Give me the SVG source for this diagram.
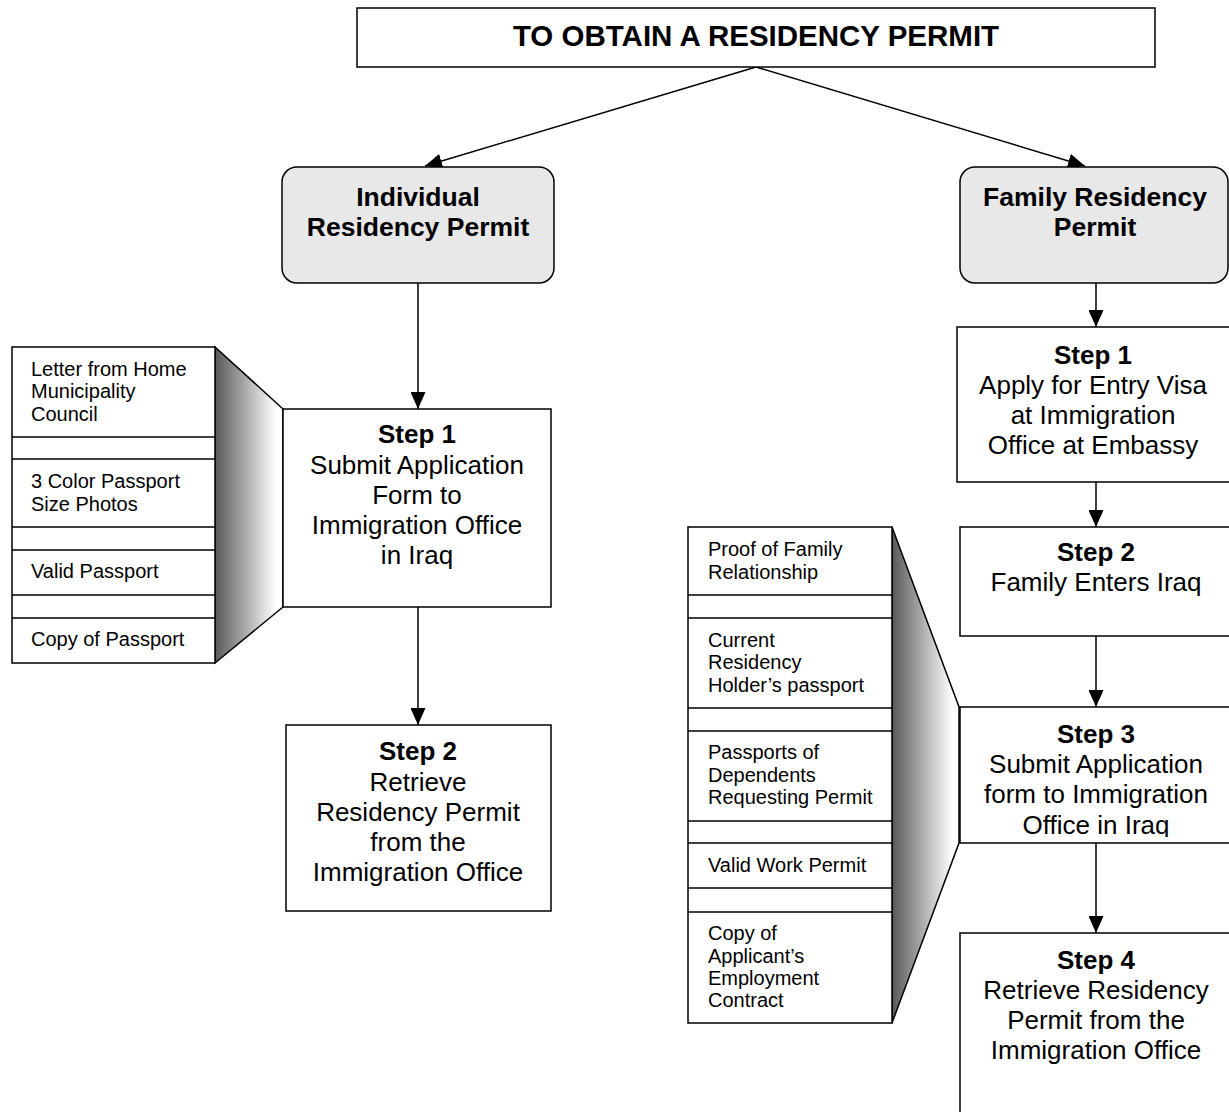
<svg xmlns="http://www.w3.org/2000/svg" width="1229" height="1112" viewBox="0 0 1229 1112">
<style>
text{font-family:"Liberation Sans",Arial,sans-serif;fill:#000}
.box{fill:#fff;stroke:#000;stroke-width:1.5}
.rbox{fill:#e8e8e8;stroke:#000;stroke-width:1.5}
.head{font-size:29.5px;font-weight:bold;text-anchor:middle}
.title{font-size:26.5px;font-weight:bold;text-anchor:middle}
.st{font-size:26px;text-anchor:middle}
.stb{font-size:26px;font-weight:bold;text-anchor:middle}
.li{font-size:20px}
.sep{stroke:#000;stroke-width:1.5}
.conn{stroke:#000;stroke-width:1.5;fill:none;marker-end:url(#ah)}
.trap{fill:url(#grad);stroke:#000;stroke-width:1.5}
</style>
<defs>
<marker id="ah" viewBox="0 0 17 15" refX="17" refY="7.5" markerWidth="17" markerHeight="15" markerUnits="userSpaceOnUse" orient="auto">
<path d="M0,0 L17,7.5 L0,15 z" fill="#000"/>
</marker>
<linearGradient id="grad" x1="0" y1="0" x2="1" y2="0">
<stop offset="0" stop-color="#585858"/>
<stop offset="0.9" stop-color="#ffffff"/>
<stop offset="1" stop-color="#ffffff"/>
</linearGradient>
<clipPath id="clip3"><rect x="960" y="707" width="280" height="130"/></clipPath>
</defs>
<rect width="1229" height="1112" fill="#fff"/>

<g id="connectors">
<line class="conn" x1="756" y1="67" x2="425" y2="166"/>
<line class="conn" x1="756" y1="67" x2="1085" y2="166"/>
<line class="conn" x1="418" y1="283" x2="418" y2="409"/>
<line class="conn" x1="418" y1="607" x2="418" y2="725"/>
<line class="conn" x1="1096" y1="283" x2="1096" y2="327"/>
<line class="conn" x1="1096" y1="482" x2="1096" y2="527"/>
<line class="conn" x1="1096" y1="636" x2="1096" y2="707"/>
<line class="conn" x1="1096" y1="843" x2="1096" y2="933"/>
</g>

<g id="header">
<rect class="box" x="357" y="8" width="798" height="59"/>
<text class="head" x="756" y="46">TO OBTAIN A RESIDENCY PERMIT</text>
</g>

<g id="individual">
<rect class="rbox" x="282" y="167" width="272" height="116" rx="15" ry="15"/>
<text class="title" x="418" y="206">Individual</text>
<text class="title" x="418" y="236">Residency Permit</text>
</g>

<g id="family">
<rect class="rbox" x="960" y="167" width="268" height="116" rx="15" ry="15"/>
<text class="title" x="1095" y="206">Family Residency</text>
<text class="title" x="1095" y="236">Permit</text>
</g>

<g id="ind-docs">
<polygon class="trap" points="215,347 283,409 283,607 215,663"/>
<rect class="box" x="12" y="347" width="203" height="316"/>
<line class="sep" x1="12" y1="437" x2="215" y2="437"/>
<line class="sep" x1="12" y1="459" x2="215" y2="459"/>
<line class="sep" x1="12" y1="527" x2="215" y2="527"/>
<line class="sep" x1="12" y1="550" x2="215" y2="550"/>
<line class="sep" x1="12" y1="595" x2="215" y2="595"/>
<line class="sep" x1="12" y1="618" x2="215" y2="618"/>
<text class="li" x="31" y="376">Letter from Home</text>
<text class="li" x="31" y="398">Municipality</text>
<text class="li" x="31" y="421">Council</text>
<text class="li" x="31" y="488">3 Color Passport</text>
<text class="li" x="31" y="511">Size Photos</text>
<text class="li" x="31" y="578">Valid Passport</text>
<text class="li" x="31" y="646">Copy of Passport</text>
</g>

<g id="ind-step1">
<rect class="box" x="283" y="409" width="268" height="198"/>
<text class="stb" x="417" y="443">Step 1</text>
<text class="st" x="417" y="474">Submit Application</text>
<text class="st" x="417" y="504">Form to</text>
<text class="st" x="417" y="534">Immigration Office</text>
<text class="st" x="417" y="564">in Iraq</text>
</g>

<g id="ind-step2">
<rect class="box" x="286" y="725" width="265" height="186"/>
<text class="stb" x="418" y="760">Step 2</text>
<text class="st" x="418" y="791">Retrieve</text>
<text class="st" x="418" y="821">Residency Permit</text>
<text class="st" x="418" y="851">from the</text>
<text class="st" x="418" y="881">Immigration Office</text>
</g>

<g id="fam-step1">
<rect class="box" x="957" y="327" width="283" height="155"/>
<text class="stb" x="1093" y="364">Step 1</text>
<text class="st" x="1093" y="394">Apply for Entry Visa</text>
<text class="st" x="1093" y="424">at Immigration</text>
<text class="st" x="1093" y="454">Office at Embassy</text>
</g>

<g id="fam-step2">
<rect class="box" x="960" y="527" width="280" height="109"/>
<text class="stb" x="1096" y="561">Step 2</text>
<text class="st" x="1096" y="591">Family Enters Iraq</text>
</g>

<g id="fam-docs">
<polygon class="trap" points="892,527 959,707 959,843 892,1023"/>
<rect class="box" x="688" y="527" width="204" height="496"/>
<line class="sep" x1="688" y1="595" x2="892" y2="595"/>
<line class="sep" x1="688" y1="618" x2="892" y2="618"/>
<line class="sep" x1="688" y1="708" x2="892" y2="708"/>
<line class="sep" x1="688" y1="731" x2="892" y2="731"/>
<line class="sep" x1="688" y1="821" x2="892" y2="821"/>
<line class="sep" x1="688" y1="843" x2="892" y2="843"/>
<line class="sep" x1="688" y1="888" x2="892" y2="888"/>
<line class="sep" x1="688" y1="912" x2="892" y2="912"/>
<text class="li" x="708" y="556">Proof of Family</text>
<text class="li" x="708" y="579">Relationship</text>
<text class="li" x="708" y="647">Current</text>
<text class="li" x="708" y="669">Residency</text>
<text class="li" x="708" y="692">Holder’s passport</text>
<text class="li" x="708" y="759">Passports of</text>
<text class="li" x="708" y="782">Dependents</text>
<text class="li" x="708" y="804">Requesting Permit</text>
<text class="li" x="708" y="872">Valid Work Permit</text>
<text class="li" x="708" y="940">Copy of</text>
<text class="li" x="708" y="963">Applicant’s</text>
<text class="li" x="708" y="985">Employment</text>
<text class="li" x="708" y="1007">Contract</text>
</g>

<g id="fam-step3">
<rect class="box" x="960" y="707" width="280" height="136"/>
<g clip-path="url(#clip3)">
<text class="stb" x="1096" y="743">Step 3</text>
<text class="st" x="1096" y="773">Submit Application</text>
<text class="st" x="1096" y="803">form to Immigration</text>
<text class="st" x="1096" y="834">Office in Iraq</text>
</g>
</g>

<g id="fam-step4">
<rect class="box" x="960" y="933" width="280" height="200"/>
<text class="stb" x="1096" y="969">Step 4</text>
<text class="st" x="1096" y="999">Retrieve Residency</text>
<text class="st" x="1096" y="1029">Permit from the</text>
<text class="st" x="1096" y="1059">Immigration Office</text>
</g>
</svg>
